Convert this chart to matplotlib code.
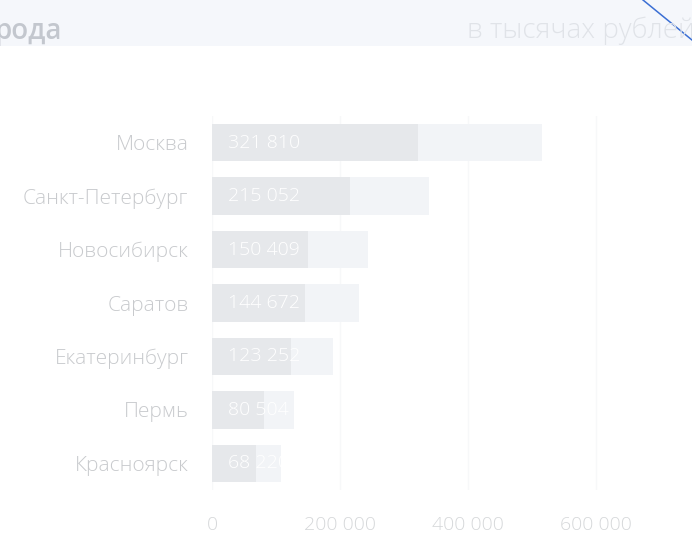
import matplotlib.pyplot as plt
from matplotlib.lines import Line2D
from matplotlib.patches import Rectangle

cities = ['Москва', 'Санкт-Петербург', 'Новосибирск', 'Саратов',
          'Екатеринбург', 'Пермь', 'Красноярск']
values = [321810, 215052, 150409, 144672, 123252, 80504, 68220]
back_values = [515000, 339000, 244000, 230000, 189000, 128000, 108000]
value_labels = ['321 810', '215 052', '150 409', '144 672', '123 252', '80 504', '68 220']
xticks = [0, 200000, 400000, 600000]
xtick_labels = ['0', '200 000', '400 000', '600 000']

plt.rcParams['font.family'] = ['Open Sans', 'DejaVu Sans']

fig = plt.figure(figsize=(6.92, 5.48), dpi=100)
fig.patch.set_facecolor('white')

# header strip
fig.patches.append(Rectangle((0, 1 - 46 / 548), 1, 46 / 548, transform=fig.transFigure,
                             facecolor='#f5f7fb', edgecolor='none', zorder=0))
fig.text(-0.008, 1 - 31 / 548, 'рода', fontsize=20, color='#c3c7ce',
         fontweight='semibold', ha='left', va='center')
fig.text(0.675, 1 - 31 / 548, 'в тысячах рублей', fontsize=20, color='#e0e3e8',
         fontweight='light', ha='left', va='center')
fig.lines.append(Line2D([643 / 692, 1.0], [1.0, 1 - 40 / 548], transform=fig.transFigure,
                        color='#3b6fd4', linewidth=1.1))

ax = fig.add_axes([212 / 692, 1 - 490 / 548, (675 - 212) / 692, (490 - 116) / 548])
y = list(range(len(cities)))
ax.barh(y, back_values, height=0.7, color='#f2f4f7', zorder=2)
ax.barh(y, values, height=0.7, color='#e6e8eb', zorder=3)
for i, lab in enumerate(value_labels):
    ax.text(25000, i, lab, color='white', fontsize=14, fontweight='light',
            va='center', ha='left', zorder=4)

ax.set_xlim(0, 723000)
ax.set_ylim(len(cities) - 0.5, -0.5)
ax.set_yticks(y)
ax.set_yticklabels(cities, fontsize=15, fontweight='light', color='#c8cacd')
ax.set_xticks(xticks)
ax.set_xticklabels(xtick_labels, fontsize=14, fontweight='light', color='#d6d8da')
ax.tick_params(length=0, pad=17, axis='y')
ax.tick_params(length=0, pad=19, axis='x')
ax.grid(axis='x', color='#f7f8f9', linewidth=1, zorder=0)
for s in ax.spines.values():
    s.set_visible(False)

fig.savefig('out.png', dpi=100, facecolor='white')
